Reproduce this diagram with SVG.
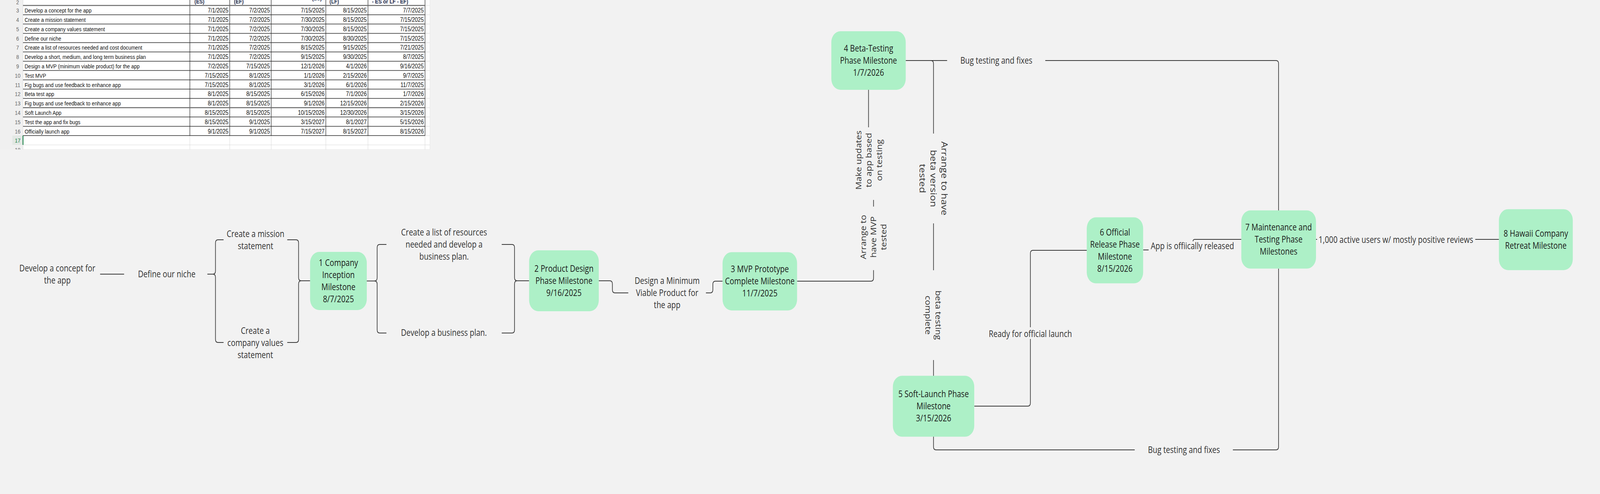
<svg xmlns="http://www.w3.org/2000/svg" width="4938" height="1265" viewBox="0 0 4938 1265" preserveAspectRatio="none" style="max-width:100vw;max-height:100vh">
<style>
.nd{fill:#adf0c7}
.t{font-family:"Open Sans","Noto Sans",sans-serif;font-size:23px;fill:#1a1a1a;text-anchor:middle}
.l{fill:#333333}
.c{fill:none;stroke:#383838;stroke-width:2}
.tk{font-family:"Liberation Sans",Arial,sans-serif;font-size:15.5px;fill:#111111}
.dt{font-family:"Liberation Sans",Arial,sans-serif;font-size:16.4px;fill:#111111;text-anchor:end}
.rn{font-family:"Liberation Sans",Arial,sans-serif;font-size:15.5px;fill:#666666;text-anchor:middle}
.hd{font-family:"Liberation Sans",Arial,sans-serif;font-size:15.5px;font-weight:bold;fill:#1f2d4d}
.g1{stroke:#2b2b2b;stroke-width:1.5;fill:none}
.g2{stroke:#d6d6d6;stroke-width:1;fill:none}
</style>
<defs>
<clipPath id="sheet"><rect x="0" y="0" width="1327" height="383"/></clipPath>
</defs>
<rect x="0" y="0" width="4938" height="1265" fill="#f2f2f2"/>

<g id="table" clip-path="url(#sheet)">
<rect x="0" y="0" width="71" height="383" fill="#f0f0f0"/>
<rect x="71" y="0" width="1256" height="383" fill="#ffffff"/>
<rect x="38" y="347.2" width="33" height="23.8" fill="#e3e8e4"/>
<path class="g2" d="M71,0V383M1327,0V383M71,371H1327M71,383H1327M586,347.2V383M709,347.2V383M837,347.2V383M1005.6,347.2V383M1135.7,347.2V383M1311.7,347.2V383M1311.7,14H1327M1311.7,37.8H1327M1311.7,61.6H1327M1311.7,85.4H1327M1311.7,109.2H1327M1311.7,133H1327M1311.7,156.8H1327M1311.7,180.6H1327M1311.7,204.4H1327M1311.7,228.2H1327M1311.7,252H1327M1311.7,275.8H1327M1311.7,299.6H1327M1311.7,323.4H1327M1311.7,347.2H1327"/>
<path class="g1" d="M71,37.8H1311.7M71,61.6H1311.7M71,85.4H1311.7M71,109.2H1311.7M71,133H1311.7M71,156.8H1311.7M71,180.6H1311.7M71,204.4H1311.7M71,228.2H1311.7M71,252H1311.7M71,299.6H1311.7M71,323.4H1311.7M71,347.2H1311.7M586,0V347.2M709,0V347.2M837,0V347.2M1005.6,0V347.2M1135.7,0V347.2M1311.7,0V347.2"/>
<path d="M71,14H1311.7M71,275.8H1311.7" stroke="#6a6a6a" stroke-width="2.5" fill="none"/>
<path d="M71,347.2V371" stroke="#107c41" stroke-width="2.5" fill="none"/>

<text class="rn" x="54.5" y="10.5">2</text>
<text class="hd" x="600" y="8.5">(ES)</text>
<text class="hd" x="722" y="8.5">(EF)</text>
<text class="hd" x="963" y="0.5">(LS)</text>
<text class="hd" x="1017" y="8.5">(LF)</text>
<text class="hd" x="1148" y="8.5">- ES or LF - EF)</text>

<text class="rn" x="54.5" y="32.3">3</text><text class="tk" x="76" y="32.3">Develop a concept for the app</text>
<text class="dt" x="705" y="32.3">7/1/2025</text><text class="dt" x="833" y="32.3">7/2/2025</text><text class="dt" x="1001.6" y="32.3">7/15/2025</text><text class="dt" x="1131.7" y="32.3">8/15/2025</text><text class="dt" x="1307.7" y="32.3">7/7/2025</text>

<text class="rn" x="54.5" y="56.1">4</text><text class="tk" x="76" y="56.1">Create a mission statement</text>
<text class="dt" x="705" y="56.1">7/1/2025</text><text class="dt" x="833" y="56.1">7/2/2025</text><text class="dt" x="1001.6" y="56.1">7/30/2025</text><text class="dt" x="1131.7" y="56.1">8/15/2025</text><text class="dt" x="1307.7" y="56.1">7/15/2025</text>

<text class="rn" x="54.5" y="79.9">5</text><text class="tk" x="76" y="79.9">Create a company values statement</text>
<text class="dt" x="705" y="79.9">7/1/2025</text><text class="dt" x="833" y="79.9">7/2/2025</text><text class="dt" x="1001.6" y="79.9">7/30/2025</text><text class="dt" x="1131.7" y="79.9">8/15/2025</text><text class="dt" x="1307.7" y="79.9">7/15/2025</text>

<text class="rn" x="54.5" y="103.7">6</text><text class="tk" x="76" y="103.7">Define our niche</text>
<text class="dt" x="705" y="103.7">7/1/2025</text><text class="dt" x="833" y="103.7">7/2/2025</text><text class="dt" x="1001.6" y="103.7">7/30/2025</text><text class="dt" x="1131.7" y="103.7">8/30/2025</text><text class="dt" x="1307.7" y="103.7">7/15/2025</text>

<text class="rn" x="54.5" y="127.5">7</text><text class="tk" x="76" y="127.5">Create a list of resources needed and cost document</text>
<text class="dt" x="705" y="127.5">7/1/2025</text><text class="dt" x="833" y="127.5">7/2/2025</text><text class="dt" x="1001.6" y="127.5">8/15/2025</text><text class="dt" x="1131.7" y="127.5">9/15/2025</text><text class="dt" x="1307.7" y="127.5">7/21/2025</text>

<text class="rn" x="54.5" y="151.3">8</text><text class="tk" x="76" y="151.3">Develop a short, medium, and long term business plan</text>
<text class="dt" x="705" y="151.3">7/1/2025</text><text class="dt" x="833" y="151.3">7/2/2025</text><text class="dt" x="1001.6" y="151.3">9/15/2025</text><text class="dt" x="1131.7" y="151.3">9/30/2025</text><text class="dt" x="1307.7" y="151.3">8/7/2025</text>

<text class="rn" x="54.5" y="175.1">9</text><text class="tk" x="76" y="175.1">Design a MVP (minimum viable product) for the app</text>
<text class="dt" x="705" y="175.1">7/2/2025</text><text class="dt" x="833" y="175.1">7/15/2025</text><text class="dt" x="1001.6" y="175.1">12/1/2026</text><text class="dt" x="1131.7" y="175.1">4/1/2026</text><text class="dt" x="1307.7" y="175.1">9/16/2025</text>

<text class="rn" x="54.5" y="198.9">10</text><text class="tk" x="76" y="198.9">Test MVP</text>
<text class="dt" x="705" y="198.9">7/15/2025</text><text class="dt" x="833" y="198.9">8/1/2025</text><text class="dt" x="1001.6" y="198.9">1/1/2026</text><text class="dt" x="1131.7" y="198.9">2/15/2026</text><text class="dt" x="1307.7" y="198.9">9/7/2025</text>

<text class="rn" x="54.5" y="222.7">11</text><text class="tk" x="76" y="222.7">Fig bugs and use feedback to enhance app</text>
<text class="dt" x="705" y="222.7">7/15/2025</text><text class="dt" x="833" y="222.7">8/1/2025</text><text class="dt" x="1001.6" y="222.7">3/1/2026</text><text class="dt" x="1131.7" y="222.7">6/1/2026</text><text class="dt" x="1307.7" y="222.7">11/7/2025</text>

<text class="rn" x="54.5" y="246.5">12</text><text class="tk" x="76" y="246.5">Beta test app</text>
<text class="dt" x="705" y="246.5">8/1/2025</text><text class="dt" x="833" y="246.5">8/15/2025</text><text class="dt" x="1001.6" y="246.5">6/15/2026</text><text class="dt" x="1131.7" y="246.5">7/1/2026</text><text class="dt" x="1307.7" y="246.5">1/7/2026</text>

<text class="rn" x="54.5" y="270.3">13</text><text class="tk" x="76" y="270.3">Fig bugs and use feedback to enhance app</text>
<text class="dt" x="705" y="270.3">8/1/2025</text><text class="dt" x="833" y="270.3">8/15/2025</text><text class="dt" x="1001.6" y="270.3">9/1/2026</text><text class="dt" x="1131.7" y="270.3">12/15/2026</text><text class="dt" x="1307.7" y="270.3">2/15/2026</text>

<text class="rn" x="54.5" y="294.1">14</text><text class="tk" x="76" y="294.1">Soft Launch App</text>
<text class="dt" x="705" y="294.1">8/15/2025</text><text class="dt" x="833" y="294.1">8/15/2025</text><text class="dt" x="1001.6" y="294.1">10/15/2026</text><text class="dt" x="1131.7" y="294.1">12/30/2026</text><text class="dt" x="1307.7" y="294.1">3/15/2026</text>

<text class="rn" x="54.5" y="317.9">15</text><text class="tk" x="76" y="317.9">Test the app and fix bugs</text>
<text class="dt" x="705" y="317.9">8/15/2025</text><text class="dt" x="833" y="317.9">9/1/2025</text><text class="dt" x="1001.6" y="317.9">3/15/2027</text><text class="dt" x="1131.7" y="317.9">8/1/2027</text><text class="dt" x="1307.7" y="317.9">5/15/2026</text>

<text class="rn" x="54.5" y="341.7">16</text><text class="tk" x="76" y="341.7">Officially launch app</text>
<text class="dt" x="705" y="341.7">9/1/2025</text><text class="dt" x="833" y="341.7">9/1/2025</text><text class="dt" x="1001.6" y="341.7">7/15/2027</text><text class="dt" x="1131.7" y="341.7">8/15/2027</text><text class="dt" x="1307.7" y="341.7">8/15/2026</text>

<text class="rn" x="54.5" y="365.5" style="fill:#107c41">17</text>
<text class="rn" x="54.5" y="389.3">18</text>
</g>

<g id="connectors">
<path class="c" d="M309,702H383"/>
<path class="c" d="M640,702H657Q665,702 665,694V622Q665,614 673,614H690"/>
<path class="c" d="M657,702Q665,702 665,710V869Q665,877 673,877H690"/>
<path class="c" d="M886.5,614H913.5Q921.5,614 921.5,622V711Q921.5,719 929.5,719H957"/>
<path class="c" d="M886.5,877H913.5Q921.5,877 921.5,869V727Q921.5,719 929.5,719"/>
<path class="c" d="M1132,719.5H1156Q1164,719.5 1164,711.5V634Q1164,626 1172,626H1192.6"/>
<path class="c" d="M1156,719.5Q1164,719.5 1164,727.5V844.7Q1164,852.7 1172,852.7H1192.6"/>
<path class="c" d="M1548.5,626H1580Q1588,626 1588,634V711Q1588,719 1596,719H1633"/>
<path class="c" d="M1548.5,852.7H1580Q1588,852.7 1588,844.7V727Q1588,719 1596,719"/>
<path class="c" d="M1848,719H1882Q1890,719 1890,727V742Q1890,750 1898,750H1939"/>
<path class="c" d="M2178.7,750H2192Q2200,750 2200,742V728Q2200,720 2208,720H2230"/>
<path class="c" d="M2460,720H2688Q2696,720 2696,712V691.7"/>
<path class="c" d="M2696,512V529"/>
<path class="c" d="M2680.5,230V326"/>
<path class="c" d="M2795,155H2923"/>
<path class="c" d="M2865,155H2873Q2881,155 2881,163V342"/>
<path class="c" d="M2881,572V692"/>
<path class="c" d="M2881,922V963"/>
<path class="c" d="M3226,155H3938Q3946,155 3946,163V539"/>
<path class="c" d="M3007,1040H3172Q3180,1040 3180,1032V868"/>
<path class="c" d="M3180,838V649Q3180,641 3188,641H3354"/>
<path class="c" d="M2881,1118V1144Q2881,1152 2889,1152H3502"/>
<path class="c" d="M3805,1152H3938Q3946,1152 3946,1144V688"/>
<path class="c" d="M3528,640H3545"/>
<path class="c" d="M3682,618Q3682,613 3687,613H3831"/>
<path class="c" d="M4061,613H4065"/>
<path class="c" d="M4553,613H4626"/>
</g>

<g id="labels">
<text class="t l"><tspan x="177" y="694.7">Develop a concept for</tspan><tspan x="177" y="725.7">the app</tspan></text>
<text class="t l" x="514.6" y="710.2">Define our niche</text>
<text class="t l"><tspan x="788.6" y="607">Create a mission</tspan><tspan x="788.6" y="638">statement</tspan></text>
<text class="t l"><tspan x="788" y="855.5">Create a</tspan><tspan x="788" y="886.5">company values</tspan><tspan x="788" y="917.5">statement</tspan></text>
<text class="t l"><tspan x="1370.5" y="603">Create a list of resources</tspan><tspan x="1370.5" y="634">needed and develop a</tspan><tspan x="1370.5" y="665">business plan.</tspan></text>
<text class="t l" x="1370" y="860.5">Develop a business plan.</text>
<text class="t l"><tspan x="2059" y="727">Design a Minimum</tspan><tspan x="2059" y="758">Viable Product for</tspan><tspan x="2059" y="789">the app</tspan></text>
<text class="t l" transform="translate(2696,607) rotate(-90)"><tspan x="0" y="-22.8">Arrange to</tspan><tspan x="0" y="8.2">have MVP</tspan><tspan x="0" y="39.2">tested</tspan></text>
<text class="t l" transform="translate(2682,410) rotate(-90)"><tspan x="0" y="-23.3">Make updates</tspan><tspan x="0" y="8.2">to app based</tspan><tspan x="0" y="39.7">on testing</tspan></text>
<text class="t l" transform="translate(2881,457) rotate(90)" style="font-size:25.5px"><tspan x="0" y="-24.9">Arrange to have</tspan><tspan x="0" y="9.1">beta version</tspan><tspan x="0" y="43.1">tested</tspan></text>
<text class="t l" transform="translate(2880,807) rotate(90)"><tspan x="0" y="-7.8">beta testing</tspan><tspan x="0" y="24.2">complete</tspan></text>
<text class="t l" x="3075" y="163.2">Bug testing and fixes</text>
<text class="t l" x="3654" y="1160">Bug testing and fixes</text>
<text class="t l" x="3180" y="863">Ready for official launch</text>
<text class="t l" x="3680" y="638">App is offiically released</text>
<text class="t l" x="4308" y="621.7">1,000 active users w/ mostly positive reviews</text>
</g>

<g id="node1"><rect class="nd" x="957" y="645" width="175" height="149" rx="28"/><text class="t"><tspan x="1044.5" y="681">1 Company</tspan><tspan x="1044.5" y="712">Inception</tspan><tspan x="1044.5" y="743">Milestone</tspan><tspan x="1044.5" y="774">8/7/2025</tspan></text></g>
<g id="node2"><rect class="nd" x="1633" y="641" width="215" height="156" rx="28"/><text class="t"><tspan x="1740.5" y="696.2">2 Product Design</tspan><tspan x="1740.5" y="727.2">Phase Milestone</tspan><tspan x="1740.5" y="758.2">9/16/2025</tspan></text></g>
<g id="node3"><rect class="nd" x="2230" y="645.7" width="230" height="149.3" rx="28"/><text class="t"><tspan x="2345" y="697.5">3 MVP Prototype</tspan><tspan x="2345" y="728.5">Complete Milestone</tspan><tspan x="2345" y="759.5">11/7/2025</tspan></text></g>
<g id="node4"><rect class="nd" x="2565.7" y="80" width="229.6" height="150" rx="28"/><text class="t"><tspan x="2680.5" y="132.2">4 Beta-Testing</tspan><tspan x="2680.5" y="163.2">Phase Milestone</tspan><tspan x="2680.5" y="194.2">1/7/2026</tspan></text></g>
<g id="node5"><rect class="nd" x="2755.6" y="962.3" width="251.2" height="156" rx="28"/><text class="t"><tspan x="2881.2" y="1017.5">5 Soft-Launch Phase</tspan><tspan x="2881.2" y="1048.5">Milestone</tspan><tspan x="2881.2" y="1079.5">3/15/2026</tspan></text></g>
<g id="node6"><rect class="nd" x="3354" y="556.6" width="174" height="169" rx="28"/><text class="t"><tspan x="3441" y="602.7">6 Official</tspan><tspan x="3441" y="633.7">Release Phase</tspan><tspan x="3441" y="664.7">Milestone</tspan><tspan x="3441" y="695.7">8/15/2026</tspan></text></g>
<g id="node7"><rect class="nd" x="3831" y="538.8" width="230.5" height="149" rx="28"/><text class="t"><tspan x="3946" y="590.5">7 Maintenance and</tspan><tspan x="3946" y="621.5">Testing Phase</tspan><tspan x="3946" y="652.5">Milestones</tspan></text></g>
<g id="node8"><rect class="nd" x="4626" y="535.7" width="228" height="156" rx="28"/><text class="t"><tspan x="4740" y="606.4">8 Hawaii Company</tspan><tspan x="4740" y="637.4">Retreat Milestone</tspan></text></g>
</svg>
